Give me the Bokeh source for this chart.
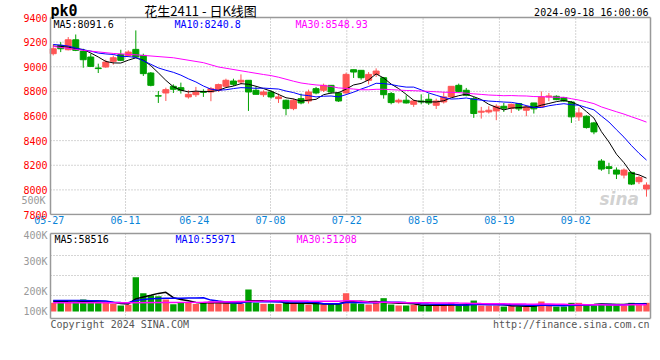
from bokeh.plotting import figure
from bokeh.models import ColumnDataSource, FixedTicker, Range1d, Label, LinearAxis
from bokeh.layouts import column
from bokeh.embed import file_html
from bokeh.resources import INLINE

# ---------------- data ----------------
date_labels = ["05-27", "06-11", "06-24", "07-08", "07-22", "08-05", "08-19", "09-02"]
date_index = [0, 10, 19, 29, 39, 49, 59, 69]
grid_skip = ["05-27", "06-24"]

opens = [9106, 9173, 9138, 9219, 9127, 9079, 8990, 8998, 9044, 9100,
         9092, 9141, 9092, 8949, 8764, 8787, 8841, 8830, 8755, 8773,
         8800, 8795, 8809, 8841, 8884, 8876, 8890, 8809, 8773, 8795,
         8741, 8728, 8660, 8741, 8722, 8822, 8809, 8849, 8787, 8787,
         8976, 8971, 8890, 8938, 8911, 8782, 8714, 8728, 8695, 8722,
         8736, 8687, 8714, 8755, 8849, 8809, 8741, 8631, 8633, 8641,
         8679, 8663, 8701, 8647, 8706, 8674, 8755, 8760, 8749, 8714,
         8593, 8598, 8544, 8234, 8188, 8161, 8120, 8142, 8066, 8007]
closes = [9146, 9146, 9219, 9133, 9057, 9003, 8985, 9038, 9073, 9052,
          9119, 9079, 8944, 8849, 8762, 8814, 8817, 8809, 8776, 8795,
          8792, 8822, 8855, 8890, 8857, 8890, 8795, 8776, 8795, 8755,
          8755, 8660, 8728, 8706, 8795, 8787, 8849, 8795, 8722, 8938,
          8957, 8911, 8938, 8965, 8773, 8709, 8728, 8706, 8722, 8714,
          8706, 8722, 8755, 8841, 8800, 8768, 8620, 8639, 8647, 8679,
          8663, 8695, 8658, 8674, 8658, 8755, 8763, 8733, 8722, 8593,
          8625, 8506, 8471, 8169, 8174, 8128, 8161, 8047, 8101, 8039]
highs = [9181, 9200, 9241, 9262, 9146, 9106, 9025, 9057, 9092, 9138,
         9133, 9295, 9106, 8957, 8803, 8830, 8857, 8871, 8809, 8836,
         8817, 8836, 8863, 8903, 8903, 8938, 8890, 8841, 8809, 8809,
         8782, 8733, 8741, 8782, 8814, 8836, 8863, 8849, 8795, 8952,
         8976, 8971, 8957, 8987, 8917, 8795, 8741, 8768, 8733, 8776,
         8782, 8741, 8795, 8841, 8863, 8828, 8755, 8674, 8679, 8695,
         8706, 8701, 8706, 8687, 8706, 8800, 8787, 8768, 8755, 8722,
         8668, 8606, 8552, 8250, 8220, 8182, 8174, 8147, 8115, 8061]
lows = [9092, 9119, 9133, 9127, 8992, 8998, 8949, 8992, 9017, 9046,
        9079, 9073, 8925, 8841, 8706, 8722, 8787, 8782, 8741, 8755,
        8755, 8720, 8795, 8836, 8844, 8857, 8641, 8776, 8755, 8741,
        8706, 8606, 8647, 8695, 8701, 8776, 8795, 8782, 8714, 8782,
        8909, 8895, 8857, 8917, 8741, 8695, 8701, 8701, 8674, 8695,
        8690, 8657, 8701, 8755, 8790, 8760, 8585, 8579, 8620, 8566,
        8633, 8625, 8641, 8598, 8620, 8668, 8720, 8728, 8714, 8544,
        8560, 8498, 8452, 8155, 8128, 8088, 8093, 8039, 8047, 7945]
volumes = [65000, 75000, 75000, 65000, 90000, 65000, 65000, 65000, 57000, 45000,
           50000, 257000, 137000, 120000, 115000, 90000, 55000, 70000, 70000, 57000,
           65000, 75000, 62000, 62000, 57000, 57000, 165000, 65000, 57000, 57000,
           57000, 70000, 65000, 57000, 50000, 57000, 52000, 62000, 62000, 137000,
           62000, 57000, 52000, 65000, 100000, 52000, 45000, 45000, 50000, 45000,
           45000, 45000, 45000, 65000, 45000, 52000, 82000, 45000, 45000, 45000,
           37000, 45000, 37000, 37000, 45000, 75000, 45000, 37000, 37000, 65000,
           65000, 50000, 45000, 57000, 57000, 57000, 45000, 65000, 57000, 65000]

# moving-average values before enough history exists
ma5_early = [9168, 9165, 9160, 9146]
ma10_early = [9181, 9176, 9168, 9152, 9138, 9127, 9111, 9104, 9100]
ma30_early_idx = [0, 4, 8, 11, 16, 20, 22, 26, 28]
ma30_early_val = [9165, 9133, 9108, 9097, 9073, 9033, 8998, 8957, 8937]
vol_ma5_early = [77000, 75000, 73000, 72000]
vol_ma10_early = [82000, 82000, 82000, 82000, 82000, 81000, 80000, 78000, 70000]
vol_ma30_early_idx = [0, 10, 20, 28]
vol_ma30_early_val = [65000, 66000, 70000, 78000]

price_ticks = [7800, 8000, 8200, 8400, 8600, 8800, 9000, 9200, 9400]
vol_tick_labels = ["400K", "300K", "200K", "100K"]
price_legend = ["MA5:8091.6", "MA10:8240.8", "MA30:8548.93"]
vol_legend = ["MA5:58516", "MA10:55971", "MA30:51208"]
extra_vol_label = "500K"
code_text = "pk0"
title_text = "花生2411 - 日K线图"
stamp_text = "2024-09-18 16:00:06"
copyright_text = "Copyright 2024 SINA.COM"
url_text = "http://finance.sina.com.cn"

# ---------------- styling / layout ----------------
RED = "#ff5555"
GREEN = "#00a000"
MONO = "DejaVu Sans Mono"
GRIDC = "#aaaaaa"
BOXC = "#999999"
N = len(closes)
SLOT = 7.51                        # px per candle
W = 652                            # canvas width
FL = 48                            # frame left (canvas px)
FW = W - FL                        # frame width
BOX_L, BOX_R = 50, 650             # panel box, canvas px
BX0 = -0.36                        # x value at the box's left edge
XS = BX0 - (BOX_L - FL) / SLOT
XE = XS + FW / SLOT
BX1 = BX0 + (BOX_R - BOX_L) / SLOT

P_BOX_T, P_BOX_B = 17, 214
PB = 14
YS, YE = price_ticks[0], price_ticks[-1]
PPX = (YE - YS) / (P_BOX_B - P_BOX_T)
YE_EXT = YE + P_BOX_T * PPX
YS_EXT = YS - 1 * PPX

V_TOP = P_BOX_B + 1 + PB
V_FT, V_FB = 231, 330
V_BOX_T, V_BOX_B, V_BASE = 233, 318, 311
VPX = 7500.0
VS_EXT = -(V_FB - V_BASE) * VPX
VE_EXT = (V_BASE - V_FT) * VPX
VB_BOT = -(V_BOX_B - V_BASE) * VPX
VB_TOP = (V_BASE - V_BOX_T) * VPX


def moving(vals, n):
    return [sum(vals[i - n + 1:i + 1]) / n for i in range(n - 1, len(vals))]


def cx_to_x(cx):
    return XS + (cx - FL) / SLOT


def cy_to_price(cy):
    return YE_EXT - cy * PPX


def cy_to_vol(cy):
    return (V_BASE - cy) * VPX


xs = list(range(N))
colors = [RED if c >= o else GREEN for o, c in zip(opens, closes)]
src = ColumnDataSource(dict(
    x=xs, open=opens, close=closes, high=highs, low=lows,
    top=[max(o, c) for o, c in zip(opens, closes)],
    bottom=[min(o, c) for o, c in zip(opens, closes)],
    vol=volumes, color=colors))

date_ticks = [round(i * 1.016 - 0.53, 3) for i in date_index]
overrides = {t: l for t, l in zip(date_ticks, date_labels)}
grid_ticks = [t for t, l in zip(date_ticks, date_labels) if l not in grid_skip]


def style_axis(ax, color, standoff):
    ax.major_label_text_font = MONO
    ax.major_label_text_font_size = "10px"
    ax.major_label_text_color = color
    ax.axis_line_color = None
    ax.major_tick_line_color = None
    ax.minor_tick_line_color = None
    ax.major_tick_in = 0
    ax.major_tick_out = 0
    ax.major_label_standoff = standoff


def draw_grid(fig, xticks, y_lo, y_hi, yvals):
    fig.segment(x0=xticks, y0=[y_lo] * len(xticks), x1=xticks, y1=[y_hi] * len(xticks),
                line_color=GRIDC, line_dash="1 2", line_width=1)
    fig.segment(x0=[BX0] * len(yvals), y0=yvals, x1=[BX1] * len(yvals), y1=yvals,
                line_color=GRIDC, line_dash="1 2", line_width=1)


def draw_box(fig, y_lo, y_hi):
    fig.segment(x0=[BX0, BX0, BX0, BX1], y0=[y_lo, y_hi, y_lo, y_lo],
                x1=[BX1, BX1, BX0, BX1], y1=[y_lo, y_hi, y_hi, y_hi],
                line_color=BOXC, line_width=1.5, line_dash="solid")


p = figure(width=W, height=V_TOP, x_range=Range1d(XS, XE),
           y_range=Range1d(YS_EXT, YE_EXT),
           output_backend="svg", toolbar_location=None,
           min_border_left=FL, min_border_right=0, min_border_top=0, min_border_bottom=PB,
           background_fill_color="white", border_fill_color="white",
           outline_line_color=None)
p.xgrid.visible = False
p.ygrid.visible = False

p.yaxis.ticker = FixedTicker(ticks=price_ticks)
style_axis(p.yaxis[0], "#ff0000", 1)
p.xaxis.ticker = FixedTicker(ticks=date_ticks)
p.xaxis.major_label_overrides = overrides
style_axis(p.xaxis[0], "#0a84d8", 0)

extra_tick = round(cy_to_price(200), 2)
ax2 = LinearAxis(ticker=FixedTicker(ticks=[extra_tick]),
                 major_label_overrides={extra_tick: extra_vol_label})
style_axis(ax2, "#999999", -25)
p.add_layout(ax2, "left")

draw_grid(p, grid_ticks, YS, YE, price_ticks[1:-1])

p.segment(x0="x", y0="low", x1="x", y1="high", color="color", line_width=1, source=src)
p.vbar(x="x", top="top", bottom="bottom", width=0.8, fill_color="color",
       line_color="color", line_width=1, source=src)

ma5 = ma5_early + moving(closes, 5)
ma10 = ma10_early + moving(closes, 10)
ma30_x = ma30_early_idx + list(range(29, N))
ma30 = ma30_early_val + moving(closes, 30)
p.line(xs, ma5, color="black", line_width=1)
p.line(xs, ma10, color="#0000ff", line_width=1)
p.line(ma30_x, ma30, color="#ff00ff", line_width=1)

draw_box(p, YS, YE)

leg_colors = ["black", "#0000ff", "#ff00ff"]
leg_cx = [53, 174, 295]
for t, c, lx in zip(price_legend, leg_colors, leg_cx):
    p.add_layout(Label(x=cx_to_x(lx), y=cy_to_price(24), text=t, text_color=c,
                       text_font=MONO, text_font_size="10px", text_baseline="middle"))

p.add_layout(Label(x=cx_to_x(50), y=cy_to_price(10), text=code_text, text_color="black",
                   text_font=MONO, text_font_size="15px", text_font_style="bold",
                   text_baseline="middle"))
p.add_layout(Label(x=cx_to_x(200), y=cy_to_price(10), text=title_text, text_color="black",
                   text_font="Noto Sans CJK SC", text_font_size="13px",
                   text_align="center", text_baseline="middle"))
p.add_layout(Label(x=cx_to_x(648), y=cy_to_price(12), text=stamp_text, text_color="black",
                   text_font=MONO, text_font_size="10px", text_align="right",
                   text_baseline="middle"))
p.add_layout(Label(x=cx_to_x(599), y=cy_to_price(208), text="sina", text_color="#999999",
                   text_alpha=0.45, text_font="DejaVu Sans", text_font_size="17px",
                   text_font_style="bold italic", text_baseline="bottom"))

v = figure(width=W, height=V_FB - V_TOP, x_range=p.x_range,
           y_range=Range1d(VS_EXT, VE_EXT),
           output_backend="svg", toolbar_location=None, x_axis_location=None,
           min_border_left=FL, min_border_right=0, min_border_top=V_FT - V_TOP,
           min_border_bottom=0,
           background_fill_color="white", border_fill_color="white",
           outline_line_color=None)
v.xgrid.visible = False
v.ygrid.visible = False

vol_tick_y = [232, 261, 291, 311]
vol_ticks = [round(cy_to_vol(cy), 1) for cy in vol_tick_y]
v.yaxis.ticker = FixedTicker(ticks=vol_ticks)
v.yaxis.major_label_overrides = {t: l for t, l in zip(vol_ticks, vol_tick_labels)}
style_axis(v.yaxis[0], "#999999", 1)

draw_grid(v, grid_ticks, VB_BOT, VB_TOP, [cy_to_vol(cy) for cy in (255, 275, 295)])

v.vbar(x="x", top="vol", bottom=0, width=0.85, fill_color="color", line_color=None,
       source=src)

vma5 = vol_ma5_early + moving(volumes, 5)
vma10 = vol_ma10_early + moving(volumes, 10)
vma30_x = vol_ma30_early_idx + list(range(29, N))
vma30 = vol_ma30_early_val + moving(volumes, 30)
v.line(xs, vma5, color="black", line_width=1.5)
v.line(xs, vma10, color="#0000ff", line_width=1.5)
v.line(vma30_x, vma30, color="#ff00ff", line_width=1.5)

draw_box(v, VB_BOT, VB_TOP)

for t, c, lx in zip(vol_legend, leg_colors, leg_cx):
    v.add_layout(Label(x=cx_to_x(lx + 1), y=cy_to_vol(239), text=t, text_color=c,
                       text_font=MONO, text_font_size="10px", text_baseline="middle"))

v.add_layout(Label(x=cx_to_x(50), y=cy_to_vol(324), text=copyright_text,
                   text_color="#555555", text_font=MONO, text_font_size="10px",
                   text_baseline="middle"))
v.add_layout(Label(x=cx_to_x(649), y=cy_to_vol(324), text=url_text,
                   text_color="#555555", text_font=MONO, text_font_size="10px",
                   text_align="right", text_baseline="middle"))

layout = column(p, v, spacing=0)
open("out.html", "w").write(file_html(layout, INLINE))
